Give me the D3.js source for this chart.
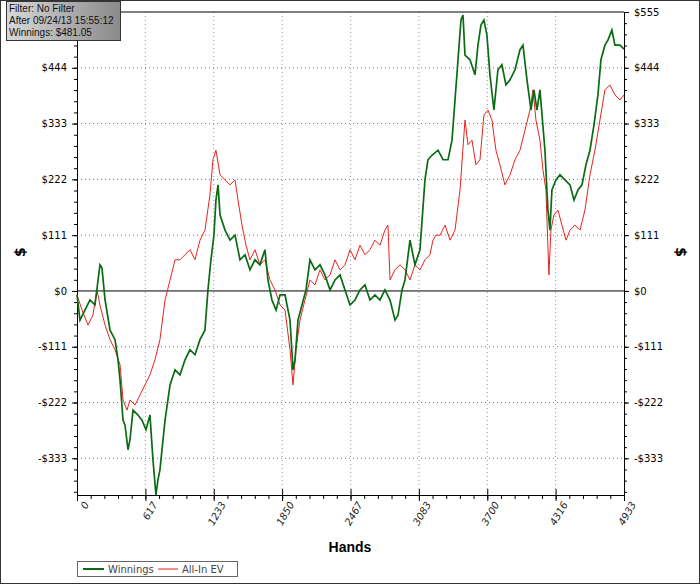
<!DOCTYPE html><html><head><script src="https://cdn.jsdelivr.net/npm/d3@7"></script>
<style>body{margin:0;background:#fff}text{font-family:Verdana,"DejaVu Sans",sans-serif}</style></head><body>
<svg id="c" width="700" height="588"></svg>
<script>
const xTicks=[0,617,1233,1850,2467,3083,3700,4316,4933];
const yTicks=[-333,-222,-111,0,111,222,333,444,555];
const winHands=[0,27,72,117,162,207,225,253,298,343,370,388,415,433,460,478,505,550,586,622,658,685,712,730,748,794,839,884,929,974,1019,1064,1109,1154,1181,1208,1235,1253,1272,1290,1335,1380,1425,1470,1515,1560,1605,1650,1695,1722,1758,1795,1831,1876,1921,1948,1966,1993,2029,2065,2101,2146,2191,2236,2282,2327,2372,2417,2462,2507,2552,2597,2642,2687,2732,2777,2823,2868,2895,2931,2958,3003,3048,3093,3138,3165,3201,3256,3301,3346,3382,3409,3436,3463,3481,3499,3544,3589,3616,3643,3670,3697,3724,3760,3796,3832,3868,3905,3950,3995,4022,4058,4094,4121,4148,4175,4220,4247,4265,4283,4319,4356,4401,4446,4482,4518,4554,4590,4626,4662,4698,4725,4761,4788,4824,4851,4897,4933];
const winnings=[-8,-58,-38,-18,-28,52,46,-18,-78,-97,-137,-177,-257,-267,-316,-296,-237,-247,-257,-276,-247,-336,-406,-376,-356,-257,-187,-157,-167,-137,-117,-127,-97,-78,2,62,111,181,211,151,121,101,111,62,72,42,62,52,82,22,-18,-38,-8,-8,-58,-157,-137,-58,-28,2,62,42,52,32,2,22,32,2,-28,-18,2,12,-18,-8,-18,2,-18,-58,-48,2,22,101,52,82,221,261,270,280,261,261,300,380,460,539,549,469,460,430,489,529,539,509,430,360,440,450,410,420,440,480,489,420,360,400,360,400,280,161,121,201,221,231,221,211,181,201,211,251,280,330,390,460,489,499,519,489,489,481];
const evHands=[0,45,99,144,180,207,253,298,343,388,415,451,478,523,568,613,658,703,748,794,839,884,929,974,1019,1064,1109,1154,1199,1226,1253,1290,1335,1380,1425,1452,1488,1524,1560,1605,1650,1695,1740,1785,1831,1876,1921,1948,1975,2011,2056,2101,2146,2191,2236,2282,2327,2372,2417,2462,2507,2552,2597,2642,2687,2732,2777,2804,2823,2868,2913,2958,3003,3048,3093,3138,3183,3210,3237,3274,3319,3364,3409,3454,3499,3526,3562,3598,3634,3670,3706,3742,3778,3814,3859,3905,3950,3995,4040,4085,4112,4139,4175,4202,4229,4256,4274,4301,4337,4373,4410,4446,4491,4536,4581,4626,4671,4716,4761,4806,4851,4897,4933];
const allInEV=[-8,-38,-68,-48,2,-28,-68,-97,-117,-147,-217,-237,-217,-227,-207,-187,-167,-137,-97,-18,22,62,62,72,82,62,101,121,191,261,280,231,221,211,221,181,131,91,62,82,52,62,22,2,-28,-38,-117,-187,-117,-58,-18,22,12,42,22,32,62,42,52,82,62,91,72,82,101,91,121,131,22,42,52,42,22,52,42,62,72,101,111,111,131,101,121,201,340,291,300,251,261,350,360,340,280,251,211,231,261,280,320,360,400,340,300,241,201,32,121,151,161,131,101,121,131,121,161,231,280,340,400,410,390,380,390];

const svg=d3.select("#c");
const L=77,R=624,T=12,B=495;
const x=d3.scaleLinear().domain([0,4933]).range([L,R]);
const y=d3.scaleLinear().domain([-406,555]).range([B,T]);
svg.append("rect").attr("x",0.5).attr("y",0.5).attr("width",699).attr("height",583).attr("fill","#fff").attr("stroke","#333");
const g=svg.append("g");
xTicks.slice(1,-1).forEach(v=>g.append("line").attr("x1",x(v)).attr("x2",x(v)).attr("y1",T).attr("y2",B).attr("stroke","#999").attr("stroke-dasharray","1,3"));
yTicks.filter(v=>v!==0&&v!==555).forEach(v=>g.append("line").attr("x1",L).attr("x2",R).attr("y1",y(v)).attr("y2",y(v)).attr("stroke","#777").attr("stroke-dasharray","1,3"));
g.append("line").attr("x1",L).attr("x2",R).attr("y1",y(0)).attr("y2",y(0)).attr("stroke","#000");
svg.append("line").attr("x1",L).attr("x2",R).attr("y1",T).attr("y2",T).attr("stroke","#000");
const minorX=d3.range(0,4933.1,4933/40);
const minorY=d3.range(-333-111,560,111/5).filter(v=>v>=-406);
const fmt=d=>d<0?"-$"+(-d):"$"+d;
svg.append("g").attr("transform",`translate(0,${B})`).call(d3.axisBottom(x).tickValues(minorX).tickSize(4).tickFormat(""));
svg.append("g").attr("transform",`translate(0,${B})`).call(d3.axisBottom(x).tickValues(xTicks).tickSize(6).tickSizeInner(-6).tickFormat(""));
const bx=svg.append("g").attr("transform",`translate(0,${B})`).call(d3.axisBottom(x).tickValues(xTicks).tickSize(6).tickFormat(d3.format("d")));
bx.selectAll("text").attr("transform","rotate(-60)").attr("text-anchor","end").attr("dx","-2").attr("dy","6").attr("font-style","italic").attr("font-size",10).attr("fill","#222");
bx.select(".domain").remove();
svg.append("g").attr("transform",`translate(${L},0)`).call(d3.axisLeft(y).tickValues(minorY).tickSize(3).tickSizeOuter(0).tickFormat(""));
// left $555 label is hidden behind the filter box in the reference
svg.append("g").attr("transform",`translate(${L},0)`).call(d3.axisLeft(y).tickValues(yTicks.filter(v=>v!==555)).tickSize(5).tickSizeOuter(0).tickFormat(fmt))
 .selectAll("text").attr("font-size",10).attr("dx","-2");
svg.append("g").attr("transform",`translate(${R},0)`).call(d3.axisRight(y).tickValues(minorY).tickSize(3).tickSizeOuter(0).tickFormat(""));
svg.append("g").attr("transform",`translate(${R},0)`).call(d3.axisRight(y).tickValues(yTicks).tickSize(5).tickSizeOuter(0).tickFormat(fmt))
 .selectAll("text").attr("font-size",10).attr("dx","2");
svg.selectAll(".tick line").attr("stroke","#000");
const line=d3.line().x(d=>x(d[0])).y(d=>y(d[1]));
svg.append("path").datum(evHands.map((h,i)=>[h,allInEV[i]])).attr("d",line).attr("fill","none").attr("stroke","#e8231e").attr("stroke-width",1);
svg.append("path").datum(winHands.map((h,i)=>[h,winnings[i]])).attr("d",line).attr("fill","none").attr("stroke","#0a6b14").attr("stroke-width",1.7);
svg.append("text").attr("x",350).attr("y",552).attr("text-anchor","middle").attr("font-weight","bold").attr("font-size",14).style("font-family","Arial, Liberation Sans").text("Hands");
svg.append("text").attr("transform","translate(25,252) rotate(-90)").attr("text-anchor","middle").attr("font-weight","bold").attr("font-size",14).text("$");
svg.append("text").attr("transform","translate(676,252) rotate(90)").attr("text-anchor","middle").attr("font-weight","bold").attr("font-size",14).text("$");
const lg=svg.append("g");
lg.append("rect").attr("x",77.5).attr("y",561.5).attr("width",160).attr("height",15).attr("fill","#fff").attr("stroke","#666");
lg.append("line").attr("x1",83).attr("x2",104).attr("y1",569).attr("y2",569).attr("stroke","#0a6b14").attr("stroke-width",2);
lg.append("text").attr("x",108).attr("y",573).attr("font-size",10).attr("fill","#444").text("Winnings");
lg.append("line").attr("x1",158).attr("x2",178).attr("y1",569).attr("y2",569).attr("stroke","#e8231e");
lg.append("text").attr("x",182).attr("y",573).attr("font-size",10).attr("fill","#444").text("All-In EV");
const df=svg.append("defs").append("linearGradient").attr("id","gr").attr("x1",0).attr("x2",1);
df.append("stop").attr("offset",0).attr("stop-color","#d8d8d8");df.append("stop").attr("offset",1).attr("stop-color","#8a8a8a");
svg.append("rect").attr("x",6.5).attr("y",1.5).attr("width",114).attr("height",39).attr("fill","url(#gr)").attr("stroke","#333");
["Filter: No Filter","After 09/24/13 15:55:12","Winnings: $481.05"].forEach((t,i)=>svg.append("text").attr("x",9).attr("y",12+i*12).attr("font-size",10).style("font-family","Liberation Sans, Arial").attr("fill","#111").text(t));
</script></body></html>
